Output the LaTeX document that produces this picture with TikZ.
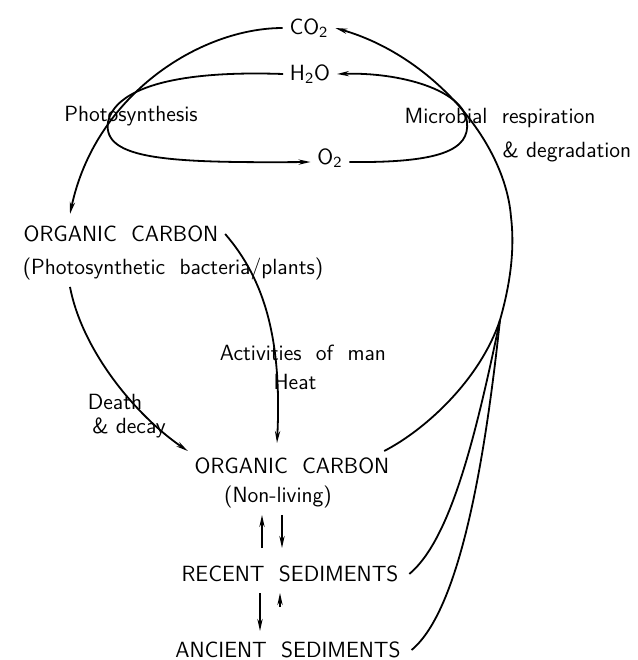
\documentclass[tikz,border=0pt]{standalone}
\usetikzlibrary{arrows.meta}

\begin{document}
\begin{tikzpicture}[x=0.5pt, y=-0.5pt, line width=0.9pt,
                    >={Stealth[length=6pt,width=2.6pt]},
                    every node/.style={font=\sffamily\fontsize{11}{13}\selectfont, inner sep=3pt}]
              \useasboundingbox (0,0) rectangle (638,660);

              % Les gaz
                \node (co2) at (309,28) {CO\textsubscript{2}};
                \node (h2o) at (310,74) {H\textsubscript{2}O};
                \node (o2) at (330,158) {O\textsubscript{2}};
                \node (photo) at (131,116) {Photosynthesis};
                \node (micro) at (500,118) {Microbial~~respiration};
                \node (degr) at (567,152) {\& degradation};

              % Le carbone
                \node (orgliv) at (121,234) {ORGANIC~~CARBON};
                \node (orglivsub) at (173,269) {(Photosynthetic~~bacteria/plants)};
                \node (act) at (303,353) {Activities~~of~~man};
                \node (heat) at (295,382) {Heat};
                \node (death) at (115,402) {Death};
                \node (decay) at (129,428) {\& decay};
                \node (orgdead) at (292,466) {ORGANIC~~CARBON};
                \node (orgdeadsub) at (278,497) {(Non-living)};
                \node (recent) at (290,574) {RECENT~~SEDIMENTS};
                \node (ancient) at (288,650) {ANCIENT~~SEDIMENTS};

                \coordinate (upt) at (70,214);
                \coordinate (merge) at (500,320);
                \coordinate (rim) at (511,217);

              % Le grand cercle
              \draw[->] (co2.west) .. controls (200,28) and (95,95) .. (upt);
              \draw[->] ([xshift=-6pt]orgdead.north east) .. controls (425,430) and (480,380) .. (merge)
                        .. controls (510,285) and (515,250) .. (rim)
                        .. controls (505,140) and (430,55) .. (co2.east);
              \draw ([xshift=2pt]recent.east) .. controls (450,540) and (475,440) .. (merge);
              \draw ([xshift=2pt]ancient.east) .. controls (460,610) and (485,460) .. (merge);

              % Les boucles H2O / O2
              \draw[->] (h2o.west) .. controls (170,70) and (115,90) .. (108,122)
                        .. controls (102,160) and (170,163) .. ([yshift=-2pt]o2.west);
              \draw[->] ([yshift=-2pt]o2.east) .. controls (440,163) and (470,150) .. (467,122)
                        .. controls (464,90) and (400,72) .. (h2o.east);

              % Flèches internes
              \draw[->] (orgliv.east) .. controls (265,280) and (282,340) .. ([xshift=-7.5pt,yshift=4pt]orgdead.north);
              \draw[->] ([xshift=-51.5pt]orglivsub.south) .. controls (82,350) and (135,415) .. (orgdead.north west);
              \draw[->] ([xshift=-14pt,yshift=5.5pt]recent.north) -- ([xshift=-8pt]orgdeadsub.south);
              \draw[->] ([xshift=2pt]orgdeadsub.south) -- ([xshift=-4pt,yshift=5.5pt]recent.north);
              \draw[->] ([xshift=-15pt,yshift=-2pt]recent.south) -- ([xshift=-14pt,yshift=2pt]ancient.north);
              \draw[->] ([xshift=-5pt,yshift=-9pt]recent.south) -- ([xshift=-5pt,yshift=-2pt]recent.south);
            \end{tikzpicture}
\end{document}
